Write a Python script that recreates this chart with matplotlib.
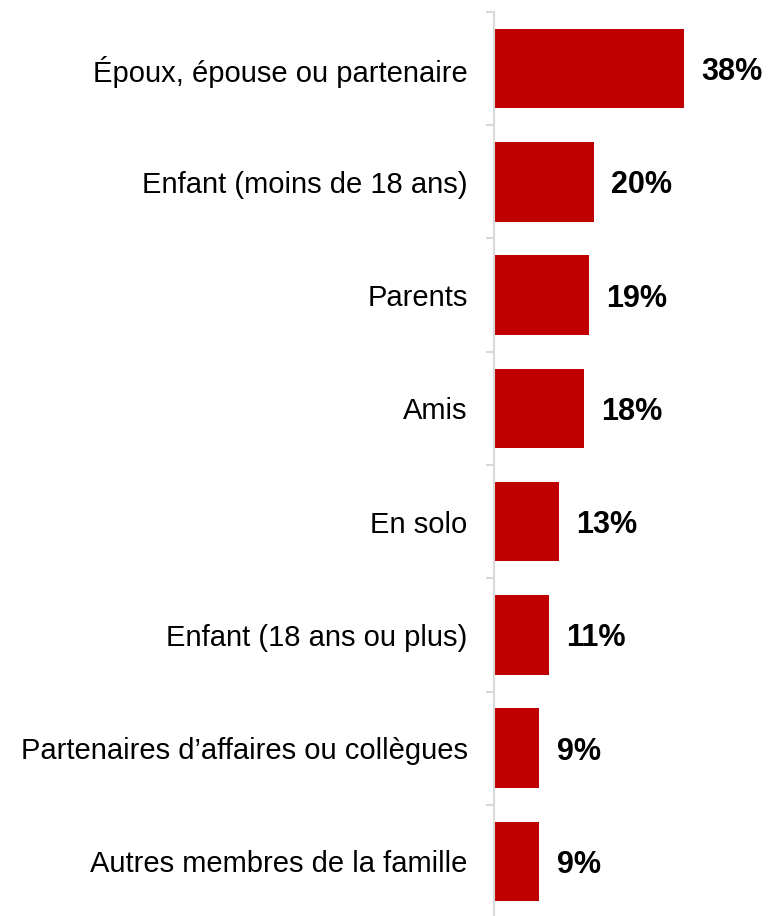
import matplotlib
matplotlib.use('Agg')
from matplotlib import pyplot as plt

plt.rcParams['font.family'] = ['Liberation Sans', 'DejaVu Sans']

categories = ['Époux, épouse ou partenaire', 'Enfant (moins de 18 ans)', 'Parents', 'Amis',
              'En solo', 'Enfant (18 ans ou plus)', 'Partenaires d’affaires ou collègues',
              'Autres membres de la famille']
values = [38, 20, 19, 18, 13, 11, 9, 9]

fig = plt.figure(figsize=(7.69, 9.16), dpi=100)
ax = fig.add_axes([494 / 769, -2 / 916, 275 / 769, 906 / 916])

pos = list(range(len(categories)))
ax.barh(pos, values, height=0.7, color='#C00000')

# valeurs en gras à droite des barres
for p, v in zip(pos, values):
    ax.text(v + 3.5, p + 0.03, f'{v}%', va='center', ha='left', fontsize=22, fontweight='bold')

ax.set_ylim(len(categories) - 0.5, -0.5)
ax.set_xlim(0, 55)
ax.set_yticks(pos)
ax.set_yticklabels(categories, fontsize=21)
ax.set_yticks([i - 0.5 for i in range(len(categories) + 1)], minor=True)
ax.tick_params(axis='y', which='major', length=0, pad=19)
ax.tick_params(axis='y', which='minor', length=6, width=1.5, color='#D9D9D9')
ax.set_xticks([])
for s in ['top', 'right', 'bottom']:
    ax.spines[s].set_visible(False)
ax.spines['left'].set_color('#D9D9D9')
ax.spines['left'].set_linewidth(1.5)

plt.savefig('out.png', dpi=100)
